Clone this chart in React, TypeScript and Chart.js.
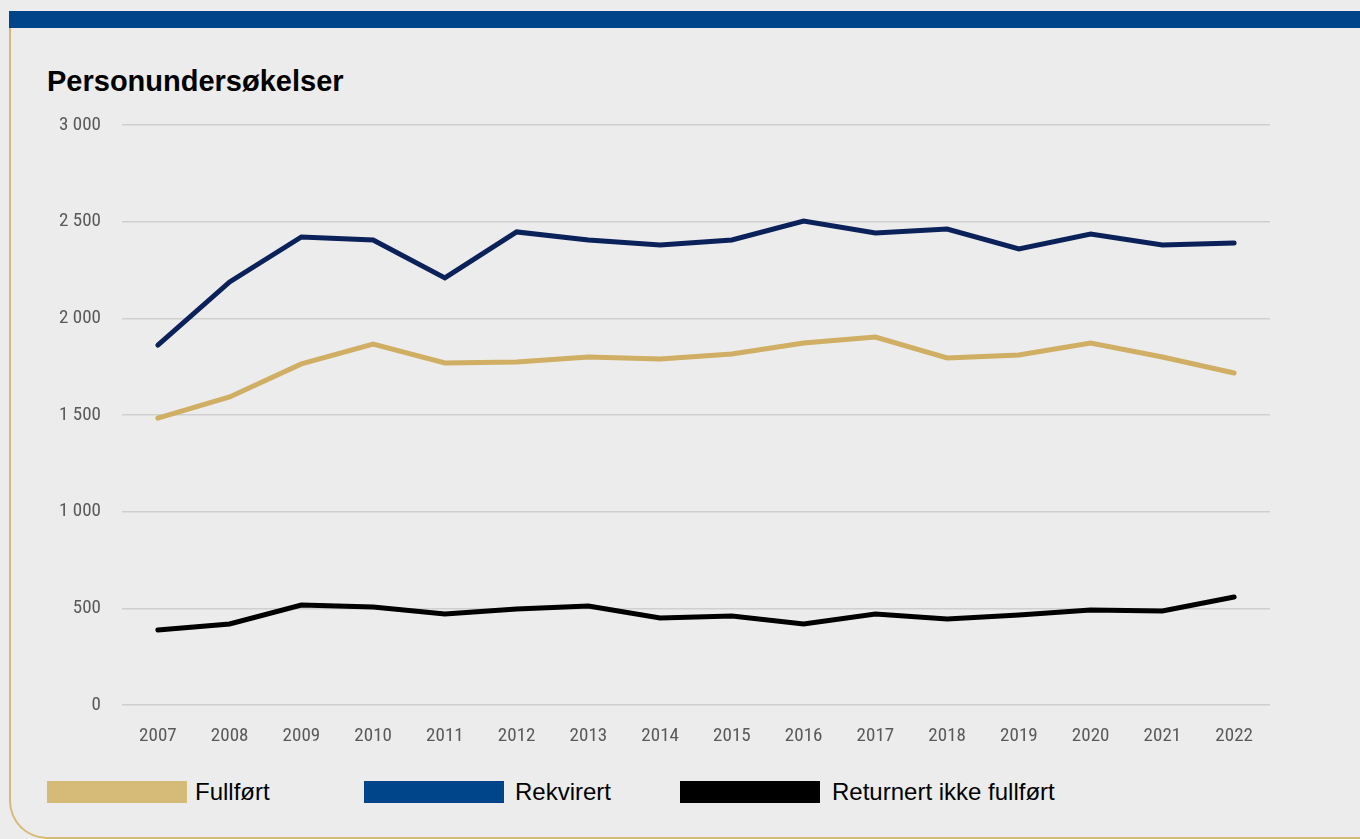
import React, { useEffect, useRef } from "react";
import { Chart, registerables } from "chart.js";

Chart.register(...registerables);

const years = ["2007","2008","2009","2010","2011","2012","2013","2014","2015","2016","2017","2018","2019","2020","2021","2022"];
const fullfort = [1484,1593,1764,1867,1769,1774,1800,1790,1816,1872,1903,1795,1810,1872,1800,1717];
const rekvirert = [1862,2188,2421,2405,2209,2447,2405,2379,2405,2503,2441,2462,2359,2436,2379,2390];
const returnert = [388,419,517,507,471,497,512,450,460,419,471,445,466,491,486,559];
const seriesNames = ["Fullført", "Rekvirert", "Returnert ikke fullført"];
const lineColors = ["#d0ae63", "#0b2159", "#000000"];
const legendColors = ["#d6bb78", "#00448a", "#000000"];
const title = "Personundersøkelser";

const tickFont = "'Liberation Sans Narrow', 'Arial Narrow', 'Roboto Condensed', Lato, sans-serif";

function fmt(v: number) {
  return String(v).replace(/\B(?=(\d{3})+(?!\d))/g, " ");
}

export default function App() {
  const ref = useRef<HTMLCanvasElement | null>(null);
  useEffect(() => {
    if (!ref.current) return;
    const data = [fullfort, rekvirert, returnert];
    const chart = new Chart(ref.current, {
      type: "line",
      data: {
        labels: years,
        datasets: data.map((d, i) => ({
          label: seriesNames[i],
          data: d,
          borderColor: lineColors[i],
          backgroundColor: lineColors[i],
          borderWidth: 5,
          pointRadius: 0,
          borderCapStyle: "round" as const,
          borderJoinStyle: "miter" as const,
          tension: 0,
        })),
      },
      options: {
        animation: false,
        responsive: false,
        maintainAspectRatio: false,
        layout: { padding: { top: 25, right: 30, left: 0, bottom: 0 } },
        plugins: { legend: { display: false }, tooltip: { enabled: false }, title: { display: false } },
        scales: {
          x: {
            offset: true,
            grid: { display: false, drawTicks: false },
            border: { display: false },
            ticks: { color: "#595959", font: { family: tickFont, size: 19 }, padding: 20, maxRotation: 0 },
            afterFit: (s: any) => { s.height = 55; s.paddingLeft = 0; s.paddingRight = 0; },
          },
          y: {
            min: 0,
            max: 3000,
            grid: { color: "#cfcfcf", lineWidth: 1.5, drawTicks: false },
            border: { display: false },
            ticks: {
              stepSize: 500,
              color: "#595959",
              font: { family: tickFont, size: 19 },
              padding: 21,
              callback: (v: any) => fmt(Number(v)),
            },
            afterFit: (s: any) => { s.width = 122; s.paddingTop = 0; s.paddingBottom = 0; },
          },
        },
      },
    });
    return () => chart.destroy();
  }, []);

  return (
    <div style={{ position: "absolute", left: 0, top: 0, width: 1360, height: 839, background: "#ececec", overflow: "hidden" }}>
      <div style={{ position: "absolute", left: 9, top: 11, width: 1351, height: 17, background: "#00448a" }} />
      <div style={{ position: "absolute", left: 9, top: 28, width: 1500, height: 811, borderLeft: "2px solid #d6bb78", borderBottom: "2px solid #d6bb78", borderBottomLeftRadius: 38, boxSizing: "border-box" }} />
      <div style={{ position: "absolute", left: 47, top: 64, fontFamily: "'Liberation Sans', Arial, sans-serif", fontWeight: "bold", fontSize: 29, color: "#000", lineHeight: "34px", whiteSpace: "nowrap" }}>{title}</div>
      <canvas ref={ref} width={1300} height={660} style={{ position: "absolute", left: 0, top: 100, width: 1300, height: 660 }} />
      {seriesNames.map((n, i) => (
        <div key={n} style={{ position: "absolute", left: [47, 364, 680][i], top: 781, height: 22, display: "flex", alignItems: "center", whiteSpace: "nowrap" }}>
          <div style={{ width: 140, height: 22, background: legendColors[i] }} />
          <span style={{ marginLeft: [8, 11, 12][i], fontFamily: "'Liberation Sans', Arial, sans-serif", fontSize: 24, color: "#000", lineHeight: "22px" }}>{n}</span>
        </div>
      ))}
    </div>
  );
}
